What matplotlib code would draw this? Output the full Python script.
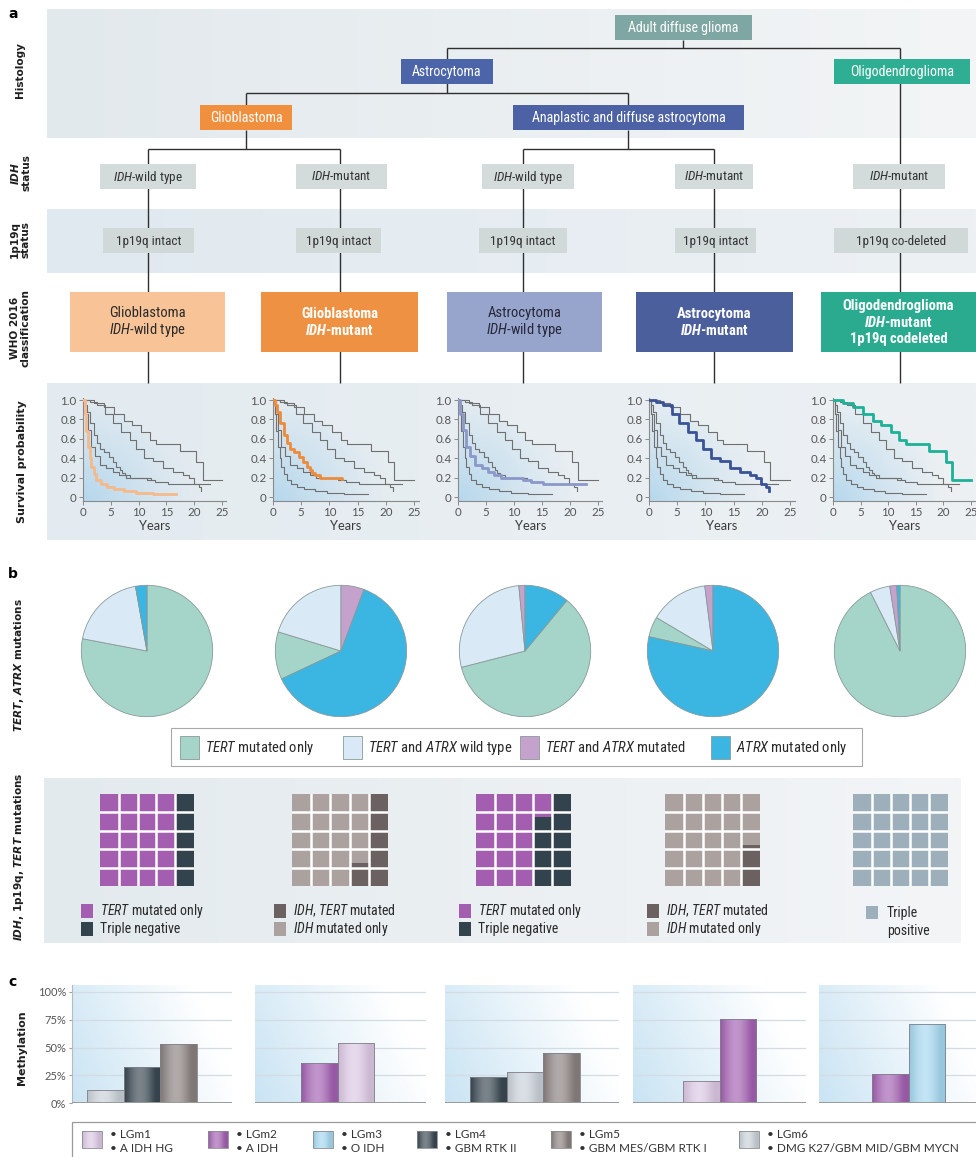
import numpy as np
import matplotlib
matplotlib.use('Agg')
import matplotlib.pyplot as plt
from matplotlib import font_manager
from matplotlib.patches import Rectangle
from matplotlib.colors import to_rgb

# ------------------------------------------------------------------ DATA
tree_root = 'Adult diffuse glioma'
tree_level1 = ['Astrocytoma', 'Oligodendroglioma']
tree_level2 = ['Glioblastoma', 'Anaplastic and diffuse astrocytoma']
idh_status = ['IDH-wild type', 'IDH-mutant', 'IDH-wild type', 'IDH-mutant', 'IDH-mutant']
codel_status = ['1p19q intact', '1p19q intact', '1p19q intact', '1p19q intact', '1p19q co-deleted']
who_classes = ['Glioblastoma\nIDH-wild type', 'Glioblastoma\nIDH-mutant',
               'Astrocytoma\nIDH-wild type', 'Astrocytoma\nIDH-mutant',
               'Oligodendroglioma\nIDH-mutant\n1p19q codeleted']

# Kaplan-Meier curves (years, survival probability)
t_gbm_wt = [0, 0.3, 0.6, 0.9, 1.2, 1.5, 1.9, 2.4, 3.2, 4.3, 5.5, 7.4, 9.5, 12.5, 16.8]
s_gbm_wt = [1.0, 0.86, 0.68, 0.52, 0.4, 0.31, 0.24, 0.18, 0.13, 0.1, 0.08, 0.06, 0.045, 0.035, 0.03]
t_gbm_mut = [0, 0.4, 0.7, 1.3, 1.9, 2.5, 3.1, 3.8, 4.6, 5.4, 6.0, 6.6, 7.0, 7.5, 8.4, 10.0, 12.3]
s_gbm_mut = [1.0, 0.95, 0.88, 0.76, 0.64, 0.56, 0.5, 0.46, 0.41, 0.36, 0.31, 0.28, 0.25, 0.23, 0.2, 0.2, 0.19]
t_astro_wt = [0, 0.4, 0.9, 1.5, 2.1, 3.0, 4.2, 5.4, 6.5, 7.7, 11.6, 13.0, 15.2, 22.9]
s_astro_wt = [1.0, 0.86, 0.69, 0.52, 0.42, 0.33, 0.3, 0.26, 0.23, 0.2, 0.18, 0.15, 0.13, 0.13]
t_astro_mut = [0, 1.3, 2.5, 4.0, 5.4, 6.9, 8.4, 9.6, 11.0, 12.5, 14.3, 16.1, 17.9, 19.0, 19.9, 20.8, 21.3]
s_astro_mut = [1.0, 0.98, 0.95, 0.86, 0.76, 0.67, 0.59, 0.49, 0.4, 0.37, 0.3, 0.26, 0.23, 0.2, 0.13, 0.1, 0.06]
t_oligo = [0, 1.9, 3.7, 5.5, 7.3, 8.75, 10.5, 12.0, 13.2, 17.4, 20.4, 21.5, 25.0]
s_oligo = [1.0, 0.97, 0.93, 0.86, 0.78, 0.74, 0.67, 0.59, 0.55, 0.47, 0.36, 0.18, 0.18]

# TERT / ATRX pies (percent), category order below
pie_categories = ['TERT mutated only', 'TERT and ATRX wild type', 'TERT and ATRX mutated', 'ATRX mutated only']
pie_gbm_wt = [78.0, 19.2, 0.0, 2.8]
pie_gbm_mut = [11.7, 20.3, 5.7, 62.3]
pie_astro_wt = [60.0, 27.5, 1.5, 11.0]
pie_astro_mut = [5.0, 14.5, 2.0, 78.5]
pie_oligo = [92.6, 4.9, 1.7, 0.8]
pie_first_at_top = [0, 2, 3, 3, 0]

# IDH / 1p19q / TERT waffles: (category, percent) – first fills from the left
waffle_gbm_wt = [('TERT mutated only', 80), ('Triple negative', 20)]
waffle_gbm_mut = [('IDH mutated only', 75), ('IDH, TERT mutated', 25)]
waffle_astro_wt = [('TERT mutated only', 65), ('Triple negative', 35)]
waffle_astro_mut = [('IDH mutated only', 91), ('IDH, TERT mutated', 9)]
waffle_oligo = [('Triple positive', 100)]
waffle_legends = [['TERT mutated only', 'Triple negative'],
                  ['IDH, TERT mutated', 'IDH mutated only'],
                  ['TERT mutated only', 'Triple negative'],
                  ['IDH, TERT mutated', 'IDH mutated only'],
                  ['Triple\npositive']]

# Methylation clusters (percent)
meth_labels = ['LGm1', 'LGm2', 'LGm3', 'LGm4', 'LGm5', 'LGm6']
meth_sub = ['A IDH HG', 'A IDH', 'O IDH', 'GBM RTK II', 'GBM MES/GBM RTK I', 'DMG K27/GBM MID/GBM MYCN']
meth_gbm_wt = [('LGm6', 12), ('LGm4', 32), ('LGm5', 53)]
meth_gbm_mut = [('LGm2', 36), ('LGm1', 54)]
meth_astro_wt = [('LGm4', 23.5), ('LGm6', 28), ('LGm5', 45)]
meth_astro_mut = [('LGm1', 20), ('LGm2', 76)]
meth_oligo = [('LGm2', 26), ('LGm3', 71)]
meth_ticks = [0, 25, 50, 75, 100]

# ------------------------------------------------------------------ STYLE
W, H = 976, 1157
avail = {f.name for f in font_manager.fontManager.ttflist}


def pick(cands):
    for c in cands:
        if c in avail:
            return c
    return 'DejaVu Sans'


NARROW = pick(['Liberation Sans Narrow', 'Roboto Condensed', 'Open Sans Condensed', 'Lato', 'Liberation Sans'])
HUMAN = pick(['Lato', 'Open Sans', 'Noto Sans'])
LABEL = 'DejaVu Sans'

rc = {'mathtext.fontset': 'custom',
      'mathtext.rm': NARROW,
      'mathtext.it': NARROW + ':italic',
      'mathtext.bf': NARROW + ':bold',
      'mathtext.sf': 'DejaVu Sans:bold:italic'}
for k, v in rc.items():
    plt.rcParams[k] = v
try:
    plt.rcParams['mathtext.bfit'] = NARROW + ':bold:italic'
    BFIT = True
except KeyError:
    BFIT = False


def it(s, words=('IDH', 'TERT', 'ATRX'), cmd='mathit'):
    for w in words:
        s = s.replace(w, '$\\%s{%s}$' % (cmd, w))
    return s


fig = plt.figure(figsize=(W / 100, H / 100), dpi=100)
bg = fig.add_axes([0, 0, 1, 1])
bg.set_xlim(0, W)
bg.set_ylim(H, 0)
bg.axis('off')


def fax(x0, y0, x1, y1):
    return fig.add_axes([x0 / W, 1 - y1 / H, (x1 - x0) / W, (y1 - y0) / H])


def band(x0, y0, x1, y1, cl, cr, z=0):
    g = np.linspace(0, 1, 256)
    a = np.array(to_rgb(cl))
    b = np.array(to_rgb(cr))
    img = (a[None, :] * (1 - g[:, None]) + b[None, :] * g[:, None])[None, :, :]
    bg.imshow(img, extent=(x0, x1, y1, y0), aspect='auto', zorder=z, interpolation='bilinear')


LINE = '#2f2f2f'


def seg(xs, ys):
    bg.plot(xs, ys, color=LINE, lw=1.0, zorder=1, solid_capstyle='butt')


def box(x0, y0, x1, y1, fc, txt, tc='white', size=10, weight='normal'):
    bg.add_patch(Rectangle((x0, y0), x1 - x0, y1 - y0, fc=fc, ec='none', zorder=3))
    bg.text((x0 + x1) / 2, (y0 + y1) / 2 + 0.5, txt, ha='center', va='center', color=tc,
            fontsize=size, family=NARROW, weight=weight, zorder=4, linespacing=1.15)


def rot_label(x, y, s, size=7.6):
    bg.text(x, y, s, rotation=90, ha='center', va='center', fontsize=size, family=LABEL,
            weight='bold', color='#1e1e1e', linespacing=1.05)


# ------------------------------------------------------------------ SECTION a
bg.text(8, 14, 'a', fontsize=10, weight='bold', family=LABEL, ha='left', va='center')
band(47, 9, W, 138, '#e2e9ed', '#f3f5f6')
band(47, 209, W, 273, '#e0e9f0', '#edf1f4')
band(47, 383, W, 540, '#e3ebf0', '#edf1f4')

rot_label(20, 70, 'Histology')
rot_label(20, 173, '$\\mathsf{IDH}$\nstatus')
rot_label(20, 240, '1p19q\nstatus')
rot_label(20, 328, 'WHO 2016\nclassification')
rot_label(22, 462, 'Survival probability', size=8)

# tree lines
seg([683, 683], [40, 48]); seg([447, 900], [48, 48]); seg([447, 447], [48, 59])
seg([900, 900], [48, 383])
seg([447, 447], [83, 93]); seg([246, 628], [93, 93]); seg([246, 246], [93, 105]); seg([628, 628], [93, 105])
seg([246, 246], [130, 149]); seg([148, 340], [149, 149])
seg([628, 628], [130, 149]); seg([523, 714], [149, 149])
for xv in [148, 340, 523, 714]:
    seg([xv, xv], [149, 383])

box(615, 15, 752, 40, '#7ea7a4', tree_root)
box(401, 59, 493, 84, '#4c65a8', tree_level1[0])
box(834, 59, 970, 84, '#2eae93', tree_level1[1])
box(200, 105, 292, 130, '#f0903e', tree_level2[0])
box(513, 105, 744, 130, '#4c62a5', tree_level2[1])

idh_x = [(100, 196), (296, 387), (482, 574), (675, 753), (853, 945)]
cod_x = [(103, 194), (296, 381), (479, 567), (675, 756), (834, 968)]
who_x = [(70, 225), (261, 418), (447, 602), (636, 793), (821, 976)]
who_fc = ['#f8c497', '#ee9142', '#97a4cc', '#4a5f9c', '#2aab8f']
who_tc = ['#2a2a2a', 'white', '#26283a', 'white', 'white']
who_w = ['normal', 'bold', 'normal', 'bold', 'bold']
for i in range(5):
    box(idh_x[i][0], 164, idh_x[i][1], 189, '#d4dbdb', it(idh_status[i]), tc='#333333', size=9.5)
    box(cod_x[i][0], 228, cod_x[i][1], 253, '#d0d8d8', codel_status[i], tc='#333333', size=9.5)
    cmd = 'mathbfit' if (who_w[i] == 'bold' and BFIT) else 'mathit'
    box(who_x[i][0], 292, who_x[i][1], 352, who_fc[i], it(who_classes[i], cmd=cmd),
        tc=who_tc[i], size=10.5, weight=who_w[i])

# survival panels
curves = [(t_gbm_wt, s_gbm_wt), (t_gbm_mut, s_gbm_mut), (t_astro_wt, s_astro_wt),
          (t_astro_mut, s_astro_mut), (t_oligo, s_oligo)]
hl_colors = ['#f5b98a', '#ee8b3b', '#8b98c9', '#3a5296', '#1db197']
surv_x = [(83, 222), (273, 414), (458, 598), (649, 790), (833, 971)]
XMAX, YLO, YHI = 25.8, -0.04, 1.02
# blue glow image
gx, gy = np.meshgrid(np.linspace(0, XMAX, 120), np.linspace(YLO, YHI, 120))
d = np.clip(np.sqrt((gx / 21.0) ** 2 + ((gy - YLO) / 1.2) ** 2), 0, 1)
glow = np.zeros((120, 120, 4))
glow[..., :3] = to_rgb('#add4ec')
glow[..., 3] = 0.85 * (1 - d) ** 1.2
for i in range(5):
    x0, x25 = surv_x[i]
    ppy = (x25 - x0) / 25.0
    ax = fax(x0, 400 - (YHI - 1) * 97, x0 + XMAX * ppy, 497 - YLO * 97)
    ax.set_facecolor('none')
    env = ax.fill_between(t_oligo, s_oligo, YLO, step='post', facecolor='none', edgecolor='none')
    im = ax.imshow(glow, extent=(0, XMAX, YLO, YHI), origin='lower', aspect='auto', zorder=0,
                   interpolation='bilinear')
    im.set_clip_path(env.get_paths()[0], transform=ax.transData)
    for j, (t, s) in enumerate(curves):
        if j == i:
            continue
        ax.plot(t, s, drawstyle='steps-post', color='#707070', lw=0.8, zorder=2)
    ax.plot(curves[i][0], curves[i][1], drawstyle='steps-post', color=hl_colors[i], lw=2.0, zorder=3)
    ax.set_xlim(0, XMAX)
    ax.set_ylim(YLO, YHI)
    ax.set_xticks([0, 5, 10, 15, 20, 25])
    ax.set_yticks([0, 0.2, 0.4, 0.6, 0.8, 1.0])
    ax.set_yticklabels(['0', '0.2', '0.4', '0.6', '0.8', '1.0'])
    for sp in ['top', 'right']:
        ax.spines[sp].set_visible(False)
    for sp in ['left', 'bottom']:
        ax.spines[sp].set_color('#8a8a8a')
        ax.spines[sp].set_linewidth(0.8)
    ax.tick_params(length=3, width=0.7, color='#8a8a8a', labelsize=8.3, labelcolor='#555555', pad=1.5)
    for lab in ax.get_xticklabels() + ax.get_yticklabels():
        lab.set_family(HUMAN)
    ax.set_xlabel('Years', fontsize=9.3, family=HUMAN, color='#3a3a3a', labelpad=1)

# ------------------------------------------------------------------ SECTION b
bg.text(8, 574, 'b', fontsize=10, weight='bold', family=LABEL, ha='left', va='center')
rot_label(19, 665, '$\\mathsf{TERT}$, $\\mathsf{ATRX}$ mutations')
rot_label(19, 857, '$\\mathsf{IDH}$, 1p19q, $\\mathsf{TERT}$ mutations')

pie_colors = ['#a5d5c9', '#d9eaf6', '#c5a2cc', '#3bb5e1']
pies = [pie_gbm_wt, pie_gbm_mut, pie_astro_wt, pie_astro_mut, pie_oligo]
pie_cx = [147, 341, 525, 713, 900]
PCY, PR = 651, 67
for i, vals in enumerate(pies):
    ax = fax(pie_cx[i] - PR, PCY - PR, pie_cx[i] + PR, PCY + PR)
    fr = np.array(vals) / np.sum(vals)
    start = 90 + 360 * np.sum(fr[:pie_first_at_top[i]])
    ax.pie(vals, colors=pie_colors, startangle=start, counterclock=False,
           wedgeprops=dict(edgecolor='#889a98', linewidth=0.6))
    ax.set_xlim(-1.02, 1.02)
    ax.set_ylim(-1.02, 1.02)
    ax.set_aspect('equal')
    ax.axis('off')

# pie legend
bg.add_patch(Rectangle((171, 728), 691, 38, fc='white', ec='#a9a9a9', lw=0.8, zorder=2))
leg_px = [180, 343, 520, 711]
for k in range(4):
    bg.add_patch(Rectangle((leg_px[k], 736), 19, 23, fc=pie_colors[k], ec='#8a9a9a', lw=0.6, zorder=3))
    bg.text(leg_px[k] + 25, 748, it(pie_categories[k]), fontsize=10.5, family=NARROW,
            color='#2a2a2a', ha='left', va='center', zorder=4)

# waffles
band(44, 778, 961, 943, '#e3eaee', '#f3f5f7')
wcol = {'TERT mutated only': '#a35eb0', 'Triple negative': '#33434e',
        'IDH, TERT mutated': '#6b6161', 'IDH mutated only': '#aba2a0',
        'Triple positive': '#9eafbc', 'Triple\npositive': '#9eafbc'}
waffles = [waffle_gbm_wt, waffle_gbm_mut, waffle_astro_wt, waffle_astro_mut, waffle_oligo]
wx = [(100, 194), (292, 388), (476, 571), (665, 760), (853, 948)]
for i, wf in enumerate(waffles):
    ax = fax(wx[i][0], 794, wx[i][1], 886)
    first = wf[0][1] / 100.0 * 25
    cols = np.arange(5)
    amt = np.clip(first - 5 * cols, 0, 5)
    ax.bar(cols, amt, bottom=0, width=1, align='edge', color=wcol[wf[0][0]], lw=0)
    if len(wf) > 1:
        ax.bar(cols, 5 - amt, bottom=amt, width=1, align='edge', color=wcol[wf[1][0]], lw=0)
    for g in range(1, 5):
        ax.axvline(g, color='white', lw=1.8)
        ax.axhline(g, color='white', lw=1.8)
    ax.set_xlim(0, 5)
    ax.set_ylim(5, 0)
    ax.axis('off')

wl_px = [81, 274, 459, 647, 866]
for i, labs in enumerate(waffle_legends):
    if len(labs) == 2:
        for r, lab in enumerate(labs):
            yy = 911 + r * 18
            bg.add_patch(Rectangle((wl_px[i], yy - 7), 12, 14, fc=wcol[lab], ec='none', zorder=3))
            bg.text(wl_px[i] + 19, yy, it(lab), fontsize=10, family=NARROW, color='#2a2a2a',
                    ha='left', va='center')
    else:
        bg.add_patch(Rectangle((wl_px[i], 906), 12, 13, fc=wcol[labs[0]], ec='none', zorder=3))
        bg.text(wl_px[i] + 21, 922, labs[0], fontsize=10, family=NARROW, color='#2a2a2a',
                ha='left', va='center', linespacing=1.35)

# ------------------------------------------------------------------ SECTION c
bg.text(8, 982, 'c', fontsize=10, weight='bold', family=LABEL, ha='left', va='center')
rot_label(22, 1048, 'Methylation', size=8)
mcol = {'LGm1': '#dcc8e4', 'LGm2': '#a462b3', 'LGm3': '#a6d8f0',
        'LGm4': '#3b4953', 'LGm5': '#8b8281', 'LGm6': '#c9d1d8'}


def shade(axx, x, y, w, h, color, clip=None, z=2):
    u = np.linspace(0, 1, 64)
    k = np.sin(np.pi * np.clip(u * 1.15, 0, 1)) ** 1.2
    base = np.array(to_rgb(color))
    light = base + (1 - base) * 0.32
    dark = base * 0.92
    img = dark[None, :] * (1 - k[:, None]) + light[None, :] * k[:, None]
    im = axx.imshow(img[None, :, :], extent=(x, x + w, y, y + h), aspect='auto', zorder=z,
                    interpolation='bilinear')
    if clip is not None:
        im.set_clip_path(clip)
    return im


meths = [meth_gbm_wt, meth_gbm_mut, meth_astro_wt, meth_astro_mut, meth_oligo]
mx = [(72, 232), (255, 426), (445, 619), (633, 806), (819, 980)]
bar_left = [87, 301, 470, 683, 872]
BW = 36.5
YTOP = 100 * (1103 - 985) / 111.0
bgx, bgy = np.meshgrid(np.linspace(0, 1, 100), np.linspace(0, 1, 100))
tt = np.clip(0.1 + 0.85 * bgx + 0.25 * bgy, 0, 1)[..., None]
bgimg = np.array(to_rgb('#c4e1f2')) * (1 - tt) + np.ones(3) * tt
for i, grp in enumerate(meths):
    x0, x1 = mx[i]
    ax = fax(x0, 985, x1, 1103)
    wpx = x1 - x0
    ax.imshow(bgimg, extent=(0, wpx, 0, YTOP), origin='lower', aspect='auto', zorder=0,
              interpolation='bilinear')
    for yv in meth_ticks[1:]:
        ax.axhline(yv, color='#d3dce2', lw=0.9, zorder=1)
    names = [g[0] for g in grp]
    vals = [g[1] for g in grp]
    lefts = bar_left[i] - x0 + BW * np.arange(len(grp))
    bars = ax.bar(lefts, vals, width=BW, align='edge', facecolor='none',
                  edgecolor='#80808a', lw=0.6, zorder=3)
    for b, nm in zip(bars, names):
        shade(ax, b.get_x(), b.get_y(), b.get_width(), b.get_height(), mcol[nm], clip=b)
    ax.axhline(0, color='#9a9a9a', lw=1.4, zorder=4)
    ax.set_xlim(0, wpx)
    ax.set_ylim(0, YTOP)
    for sp in ax.spines.values():
        sp.set_visible(False)
    ax.set_xticks([])
    if i == 0:
        ax.spines['left'].set_visible(True)
        ax.spines['left'].set_color('#b5bcc0')
        ax.set_yticks(meth_ticks)
        ax.set_yticklabels(['%d%%' % v for v in meth_ticks])
        ax.tick_params(axis='y', length=2.5, color='#9aa0a4', labelsize=8, labelcolor='#555555', pad=1.5)
        for lab in ax.get_yticklabels():
            lab.set_family(HUMAN)
    else:
        ax.set_yticks([])

# methylation legend
bg.add_patch(Rectangle((72, 1122), 912, 40, fc='white', ec='#9a9a9a', lw=0.9, zorder=2))
ml_px = [82, 208, 313, 417, 551, 739]
for k in range(6):
    bg.add_patch(Rectangle((ml_px[k], 1131), 20, 17, fc='none', ec='#8a8a90', lw=0.6, zorder=4))
    shade(bg, ml_px[k], 1148, 20, -17, mcol[meth_labels[k]], z=3)
    bg.text(ml_px[k] + 28, 1135, '\u2022 ' + meth_labels[k], fontsize=8.5, family=HUMAN,
            color='#333333', ha='left', va='center', zorder=4)
    bg.text(ml_px[k] + 28, 1149, '\u2022 ' + meth_sub[k], fontsize=8.5, family=HUMAN,
            color='#333333', ha='left', va='center', zorder=4)

bg.set_xlim(0, W)
bg.set_ylim(H, 0)
fig.savefig('out.png', dpi=100)
